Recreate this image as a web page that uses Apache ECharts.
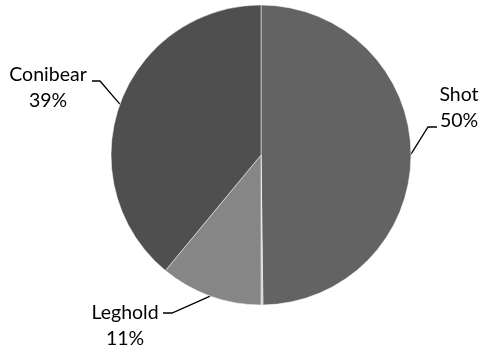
<!DOCTYPE html>
<html>
<head>
<meta charset="utf-8">
<script src="https://cdn.jsdelivr.net/npm/echarts@6/dist/echarts.min.js"></script>
<style>
  html, body { margin: 0; padding: 0; background: #fff; }
  #chart { width: 482px; height: 353px; }
</style>
</head>
<body>
<div id="chart"></div>
<script>
// Share of catch by capture method
const categories = ['Shot', 'Other', 'Leghold', 'Conibear'];
const shares = [49.8, 0.2, 11.0, 39.0];
const sliceColors = ['#636363', '#bdbdbd', '#868686', '#4f4f4f'];
const showLabel = [true, false, true, true];

// Label anchor (text centre) and leader line bend/end per slice
const labelPlacement = {
  0: { x: 459, y: 108, bend: [428, 127], end: [437, 127] },
  2: { x: 125, y: 326, bend: [172, 313], end: [163, 313] },
  3: { x: 48, y: 88, bend: [100, 81], end: [92, 81] }
};

const chart = echarts.init(document.getElementById('chart'), null, { renderer: 'canvas' });

chart.setOption({
  animation: false,
  backgroundColor: '#ffffff',
  series: [{
    type: 'pie',
    center: [261, 155],
    radius: 150,
    startAngle: 90,
    clockwise: true,
    avoidLabelOverlap: false,
    data: categories.map((name, i) => ({
      name,
      value: shares[i],
      itemStyle: { color: sliceColors[i] },
      label: { show: showLabel[i] },
      labelLine: { show: showLabel[i] }
    })),
    itemStyle: { borderColor: '#ffffff', borderWidth: 0.5 },
    label: {
      position: 'outside',
      formatter: p => p.name + '\n' + Math.round(p.value) + '%',
      fontFamily: 'Lato',
      fontSize: 19.5,
      lineHeight: 26,
      color: '#000000',
      align: 'center'
    },
    labelLine: {
      length: 0,
      length2: 0,
      lineStyle: { color: '#000000', width: 1.3 }
    },
    labelLayout: params => {
      const p = labelPlacement[params.dataIndex];
      if (!p) return {};
      // leader line starts where the slice's mid-angle meets the rim
      const start = params.labelLinePoints ? params.labelLinePoints[0] : p.bend;
      return {
        x: p.x,
        y: p.y,
        align: 'center',
        verticalAlign: 'middle',
        labelLinePoints: [start, p.bend, p.end]
      };
    }
  }]
});
</script>
</body>
</html>
